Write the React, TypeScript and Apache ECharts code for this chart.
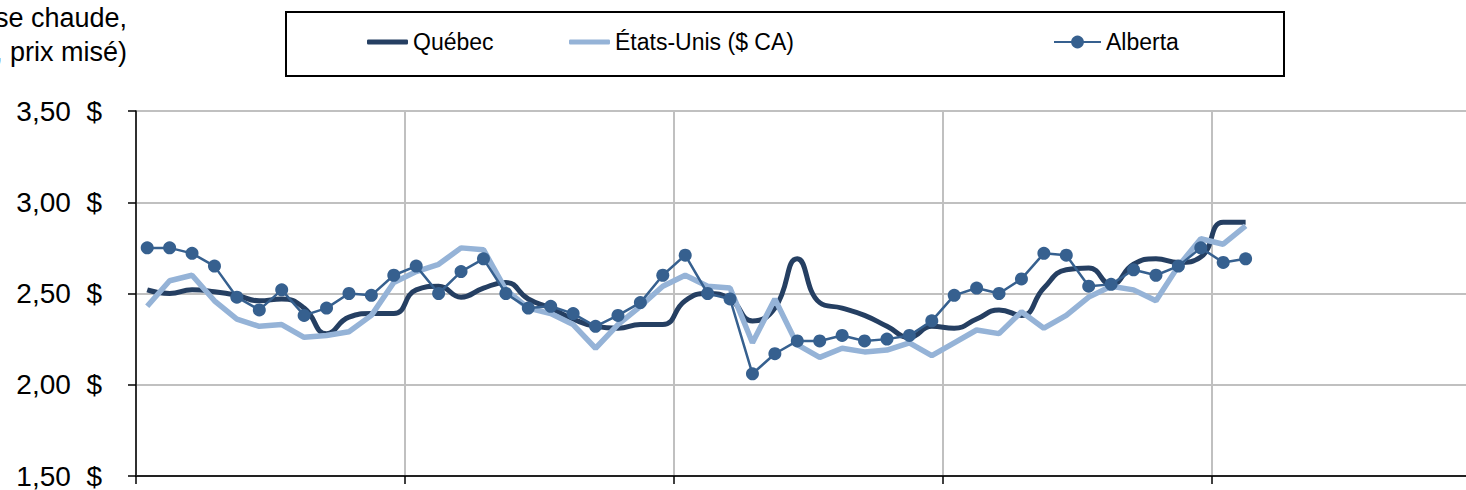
import React, { useEffect, useRef } from "react";
import * as echarts from "echarts";

const years = ["2009", "2010", "2011", "2012", "2013"];
const monthNames = ["janv.", "févr.", "mars", "avr.", "mai", "juin", "juil.", "août", "sept.", "oct.", "nov.", "déc."];
const categories: string[] = [];
years.forEach((y) => monthNames.forEach((m) => categories.push(m + " " + y)));

const yTicks = { min: 1.5, max: 3.5, step: 0.5 };

const quebec = [
  2.52, 2.5, 2.52, 2.51, 2.49, 2.46, 2.47, 2.42, 2.28, 2.37,
  2.39, 2.39, 2.52, 2.54, 2.48, 2.53, 2.56, 2.47, 2.42, 2.36,
  2.32, 2.31, 2.33, 2.33, 2.46, 2.5, 2.47, 2.35, 2.42, 2.69,
  2.45, 2.42, 2.38, 2.32, 2.26, 2.32, 2.31, 2.36, 2.41, 2.38,
  2.53, 2.63, 2.64, 2.55, 2.66, 2.69, 2.67, 2.7, 2.89, 2.89,
];

const etatsUnis = [
  2.43, 2.57, 2.6, 2.46, 2.36, 2.32, 2.33, 2.26, 2.27, 2.29,
  2.38, 2.56, 2.62, 2.66, 2.75, 2.74, 2.52, 2.42, 2.39, 2.33,
  2.2, 2.33, 2.43, 2.54, 2.6, 2.54, 2.53, 2.23, 2.47, 2.22,
  2.15, 2.2, 2.18, 2.19, 2.23, 2.16, 2.23, 2.3, 2.28, 2.4,
  2.31, 2.38, 2.48, 2.54, 2.52, 2.46, 2.65, 2.8, 2.77, 2.87,
];

const alberta = [
  2.75, 2.75, 2.72, 2.65, 2.48, 2.41, 2.52, 2.38, 2.42, 2.5,
  2.49, 2.6, 2.65, 2.5, 2.62, 2.69, 2.5, 2.42, 2.43, 2.39,
  2.32, 2.38, 2.45, 2.6, 2.71, 2.5, 2.47, 2.06, 2.17, 2.24,
  2.24, 2.27, 2.24, 2.25, 2.27, 2.35, 2.49, 2.53, 2.5, 2.58,
  2.72, 2.71, 2.54, 2.55, 2.63, 2.6, 2.65, 2.75, 2.67, 2.69,
];

const FONT = "'Liberation Sans', Arial, sans-serif";
const C_QC = "#253F62";
const C_US = "#95B3D7";
const C_AB = "#36608F";

export default function App() {
  const ref = useRef<HTMLDivElement>(null);
  useEffect(() => {
    document.body.style.margin = "0";
    const chart = echarts.init(ref.current!, undefined, { renderer: "svg" });
    const legendText = { fontSize: 23, fontFamily: FONT, color: "#000", lineHeight: 26 };
    chart.setOption({
      animation: false,
      textStyle: { fontFamily: FONT },
      grid: { left: 136, right: 0, top: 111, bottom: 11, containLabel: false },
      legend: [
        {
          data: [{ name: "Québec", icon: "roundRect" }], left: 367, top: 29, padding: 0,
          itemWidth: 41, itemHeight: 5, textStyle: legendText,
        },
        {
          data: [{ name: "États-Unis ($ CA)", icon: "roundRect" }], left: 569, top: 29, padding: 0,
          itemWidth: 41, itemHeight: 5, textStyle: legendText,
        },
        {
          data: ["Alberta"], left: 1053, top: 29, padding: 0, itemWidth: 47, itemHeight: 16,
          textStyle: legendText,
        },
      ],
      graphic: [
        {
          type: "rect",
          shape: { x: 286, y: 12, width: 998, height: 64 },
          style: { fill: "none", stroke: "#000", lineWidth: 2 },
          silent: true,
        },
        {
          type: "text",
          x: 127,
          y: 1,
          style: {
            text: "($/kg carcasse chaude,\nindice 100, prix misé)",
            font: "27px " + FONT,
            fill: "#000",
            textAlign: "right",
            textVerticalAlign: "top",
            lineHeight: 34,
          },
          silent: true,
        },
      ],
      xAxis: {
        type: "category",
        data: categories,
        boundaryGap: true,
        axisLine: { show: true, lineStyle: { color: "#222", width: 2 } },
        axisTick: { show: true, interval: 11, length: 8, lineStyle: { color: "#000", width: 1.5 } },
        axisLabel: { show: false },
        splitLine: { show: true, interval: 11, lineStyle: { color: "#C0C0C0", width: 2 } },
      },
      yAxis: {
        type: "value",
        min: yTicks.min,
        max: yTicks.max,
        interval: yTicks.step,
        axisLine: { show: true, lineStyle: { color: "#000", width: 1.5 } },
        axisTick: { show: true, length: 8, lineStyle: { color: "#000", width: 1.5 } },
        axisLabel: {
          fontSize: 28,
          color: "#000",
          fontFamily: FONT,
          margin: 34,
          formatter: (v: number) => v.toFixed(2).replace(".", ",") + "  $",
        },
        splitLine: { show: true, lineStyle: { color: "#C0C0C0", width: 2 } },
      },
      series: [
        {
          name: "Québec",
          type: "line",
          data: quebec,
          smooth: 0.5,
          symbol: "none",
          lineStyle: { color: C_QC, width: 5 },
          itemStyle: { color: C_QC },
          z: 2,
        },
        {
          name: "États-Unis ($ CA)",
          type: "line",
          data: etatsUnis,
          symbol: "none",
          lineStyle: { color: C_US, width: 5.5 },
          itemStyle: { color: C_US },
          z: 3,
        },
        {
          name: "Alberta",
          type: "line",
          data: alberta,
          symbol: "circle",
          symbolSize: 13,
          lineStyle: { color: C_AB, width: 2.5 },
          itemStyle: { color: C_AB },
          z: 4,
        },
      ],
    });
    return () => chart.dispose();
  }, []);
  return (
    <div style={{ width: 1466, height: 490, overflow: "hidden", position: "relative" }}>
      <div ref={ref} style={{ width: 1481, height: 490 }} />
    </div>
  );
}
